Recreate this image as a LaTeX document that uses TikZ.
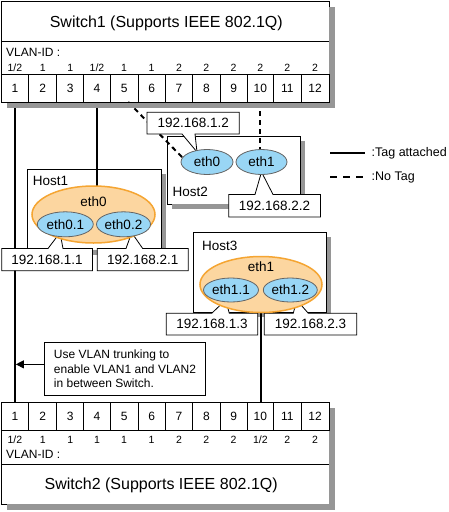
\documentclass[tikz,border=0pt]{standalone}
\usepackage{fontspec}
\setmainfont{Liberation Sans}
\usetikzlibrary{calc,arrows.meta,shapes.geometric}
\definecolor{shdcol}{RGB}{150,150,150}
\definecolor{orfill}{RGB}{252,214,160}
\definecolor{ordraw}{RGB}{245,165,50}
\definecolor{blfill}{RGB}{153,214,245}
\definecolor{bldraw}{RGB}{100,100,100}
\pgfdeclarelayer{hostlayer}
\pgfdeclarelayer{linelayer}
\pgfdeclarelayer{calloutlayer}
\pgfsetlayers{hostlayer,linelayer,calloutlayer,main}
\newcommand\halfid{1/2}
\newcommand\fsz[1]{\fontsize{#1}{#1}\selectfont}
\begin{document}
\begin{tikzpicture}[x=1pt,y=-1pt,
  frame/.style={draw=black,line width=0.8pt,fill=white,inner sep=0pt,outer sep=0pt,anchor=north west},
  port/.style={draw=black,line width=0.8pt,inner sep=0pt,outer sep=0pt,minimum height=28pt,font=\fsz{12}},
  idlab/.style={inner sep=0pt,font=\fsz{10.5}},
  vlanlab/.style={inner sep=0pt,anchor=west,font=\fsz{12}},
  swtitle/.style={inner sep=0pt,font=\fsz{16}},
  txt/.style={inner sep=0pt,font=\fsz{13.5}},
  hostlab/.style={txt,anchor=west},
  outerell/.style={ellipse,draw=ordraw,line width=1.5pt,fill=orfill,inner sep=0pt,outer sep=0pt},
  innerell/.style={ellipse,draw=bldraw,line width=0.8pt,fill=blfill,inner sep=0pt,outer sep=0pt,font=\fsz{13.5}},
  callbox/.style={draw=black,line width=0.8pt,fill=white},
  tagged/.style={line width=2pt},
  untagged/.style={line width=2pt,dash pattern=on 5pt off 4pt},
  shadowfill/.style={fill=shdcol},
  legendtxt/.style={inner sep=0pt,anchor=west,font=\fsz{12.5}},
]
\useasboundingbox (0,0) rectangle (449,512);

% ---------- Switch 1 ----------
\begin{pgfonlayer}{hostlayer}
\node[frame,minimum width=328pt,minimum height=101pt] (sw1) at (1,1) {};
\end{pgfonlayer}
\fill[shadowfill] ($(sw1.north east)+(0,5.5)$) rectangle ($(sw1.south east)+(5.5,5.5)$);
\fill[shadowfill] ($(sw1.south west)+(5.5,0)$) rectangle ($(sw1.south east)+(5.5,5.5)$);
\draw[line width=0.8pt] (sw1.west |- 0,41) -- (sw1.east |- 0,41);
\node[swtitle] (sw1t) at (166.3,23) {Switch1 (Supports IEEE 802.1Q)};
\node[vlanlab] (sw1v) at (6,52.5) {VLAN-ID :};
\foreach \i/\a/\b/\v in {1/1/28.7/\halfid, 2/28.7/56.7/1, 3/56.7/83.7/1, 4/83.7/110.3/\halfid,
   5/110.3/138/1, 6/138/165.3/1, 7/165.3/192.7/2, 8/192.7/220/2, 9/220/247.3/2,
   10/247.3/273.3/2, 11/273.3/301.3/2, 12/301.3/329/2}{
  \node[port,minimum width={(\b-\a)*1pt}] (p\i) at ({(\a+\b)/2},88) {\i};
  \node[idlab] (pv\i) at ({(\a+\b)/2},68) {\v};
}

% ---------- Switch 2 ----------
\begin{pgfonlayer}{hostlayer}
\node[frame,minimum width=328pt,minimum height=101.3pt] (sw2) at (1,402.7) {};
\end{pgfonlayer}
\fill[shadowfill] ($(sw2.north east)+(0,5.5)$) rectangle ($(sw2.south east)+(5.5,5.5)$);
\fill[shadowfill] ($(sw2.south west)+(5.5,0)$) rectangle ($(sw2.south east)+(5.5,5.5)$);
\draw[line width=0.8pt] (sw2.west |- 0,464) -- (sw2.east |- 0,464);
\node[swtitle] (sw2t) at (161.2,485) {Switch2 (Supports IEEE 802.1Q)};
\node[vlanlab] (sw2v) at (6,454.5) {VLAN-ID :};
\foreach \i/\a/\b/\v in {1/1/28.7/\halfid, 2/28.7/56.7/1, 3/56.7/83.7/1, 4/83.7/110.3/1,
   5/110.3/138/1, 6/138/165.3/1, 7/165.3/192.7/2, 8/192.7/220/2, 9/220/247.3/2,
   10/247.3/273.3/\halfid, 11/273.3/301.3/2, 12/301.3/329/2}{
  \node[port,minimum width={(\b-\a)*1pt}] (q\i) at ({(\a+\b)/2},416.8) {\i};
  \node[idlab] (qv\i) at ({(\a+\b)/2},440) {\v};
}

% ---------- Host boxes ----------
\begin{pgfonlayer}{hostlayer}
\node[frame,minimum width=134.7pt,minimum height=81pt] (h1) at (27,169) {};
\fill[shadowfill] ($(h1.north east)+(0,4.5)$) rectangle ($(h1.south east)+(4.5,4.5)$);
\fill[shadowfill] ($(h1.south west)+(4.5,0)$) rectangle ($(h1.south east)+(4.5,4.5)$);
\node[frame,minimum width=133.2pt,minimum height=67.5pt] (h2) at (167.5,136.5) {};
\fill[shadowfill] ($(h2.north east)+(0,4.5)$) rectangle ($(h2.south east)+(4.5,4.5)$);
\fill[shadowfill] ($(h2.south west)+(4.5,0)$) rectangle ($(h2.south east)+(4.5,4.5)$);
\node[frame,minimum width=133.4pt,minimum height=80.2pt] (h3) at (193.3,232.3) {};
\fill[shadowfill] ($(h3.north east)+(0,4.5)$) rectangle ($(h3.south east)+(4.5,4.5)$);
\fill[shadowfill] ($(h3.south west)+(4.5,0)$) rectangle ($(h3.south east)+(4.5,4.5)$);
\end{pgfonlayer}
\node[hostlab] (h1l) at (32.7,181) {Host1};
\node[hostlab] (h2l) at (172.5,192.3) {Host2};
\node[hostlab] (h3l) at (202,245.5) {Host3};

% ---------- Interfaces ----------
\node[outerell,minimum width=123pt,minimum height=57pt] (e0) at (93.5,214.5) {};
\node[txt] (e0t) at (93.5,201.5) {eth0};
\node[innerell,minimum width=56pt,minimum height=25pt] (e01) at (65.3,224.3) {eth0.1};
\node[innerell,minimum width=54pt,minimum height=25pt] (e02) at (123.5,224.3) {eth0.2};

\node[innerell,minimum width=52pt,minimum height=25pt] (f0) at (207,162) {eth0};
\node[innerell,minimum width=51pt,minimum height=25pt] (f1) at (261.5,162) {eth1};

\node[outerell,minimum width=122pt,minimum height=56pt] (g0) at (261,284.5) {};
\node[txt] (g0t) at (261,266.7) {eth1};
\node[innerell,minimum width=55pt,minimum height=24pt] (g1) at (231,290) {eth1.1};
\node[innerell,minimum width=54pt,minimum height=24pt] (g2) at (290.3,290) {eth1.2};

% ---------- IP labels ----------
\begin{pgfonlayer}{calloutlayer}
\draw[callbox] (1.7,248.5) -- (48,248.5) -- ($(e01)+(-5.3,8.4)$) -- (63,248.5) -- (92.5,248.5)
   -- (92.5,270.7) -- (1.7,270.7) -- cycle;
\draw[callbox] (97.3,248.5) -- (126,248.5) -- ($(e02)+(8.2,8.4)$) -- (142.7,248.5) -- (188.3,248.5)
   -- (188.3,270.7) -- (97.3,270.7) -- cycle;
\draw[callbox] (147,112.3) -- (239.3,112.3) -- (239.3,134) -- (195,134) -- ($(f0)+(-10,-10)$)
   -- (182,134) -- (147,134) -- cycle;
\draw[callbox] (228.7,194.5) -- (255,194.5) -- ($(f1)+(0,10)$) -- (273,194.5) -- (320.5,194.5)
   -- (320.5,217) -- (228.7,217) -- cycle;
\draw[callbox] (166.3,313.3) -- (211.7,313.3) -- ($(g1)+(-5.3,10)$) -- (229.3,313.3) -- (257.7,313.3)
   -- (257.7,335) -- (166.3,335) -- cycle;
\draw[callbox] (264.3,313.3) -- (293.3,313.3) -- ($(g2)+(6.4,10)$) -- (308.3,313.3) -- (356.7,313.3)
   -- (356.7,335) -- (264.3,335) -- cycle;
\end{pgfonlayer}
\node[txt] (l11) at (47.1,259.6) {192.168.1.1};
\node[txt] (l21) at (142.8,259.6) {192.168.2.1};
\node[txt] (l12) at (193.2,123.2) {192.168.1.2};
\node[txt] (l22) at (274.6,205.8) {192.168.2.2};
\node[txt] (l13) at (212,324.2) {192.168.1.3};
\node[txt] (l23) at (310.5,324.2) {192.168.2.3};

% ---------- Note ----------
\node[draw=black,line width=0.8pt,fill=white,minimum width=161.4pt,minimum height=52.3pt,
      inner sep=0pt,align=left,font=\fontsize{12}{14.5}\selectfont] (note) at (125,368.85)
      {Use VLAN trunking to\\enable VLAN1 and VLAN2\\in between Switch.};
\coordinate (trunkhit) at ($(p1.south |- note.west)+(1,-4.5)$);

% ---------- Connectors ----------
\begin{pgfonlayer}{linelayer}
\draw[tagged] (p1.south) -- (q1.north);
\draw[tagged] (p4.south) -- (p4.south |- e0.north);
\draw[untagged] ($(p5.south)+(4,0)$) -- (f0.170);
\draw[untagged] (p10.south) -- (p10.south |- f1.north);
\draw[tagged] (g0.south) -- (g0.south |- q10.north);
\draw[line width=1pt,-{Triangle[length=8pt,width=8pt]}] ($(note.west)+(0,-4.5)$) -- (trunkhit);
\end{pgfonlayer}

% ---------- Legend ----------
\coordinate (lga) at (330,153);
\coordinate (lgb) at (365,153);
\coordinate (lgc) at (330,177);
\coordinate (lgd) at (365,177);
\draw[tagged] (lga) -- (lgb);
\draw[line width=2pt,dash pattern=on 7pt off 6pt] (lgc) -- (lgd);
\node[legendtxt] (lgt1) at (371.5,153) {:Tag attached};
\node[legendtxt] (lgt2) at (371.5,177) {:No Tag};
\end{tikzpicture}
\end{document}
